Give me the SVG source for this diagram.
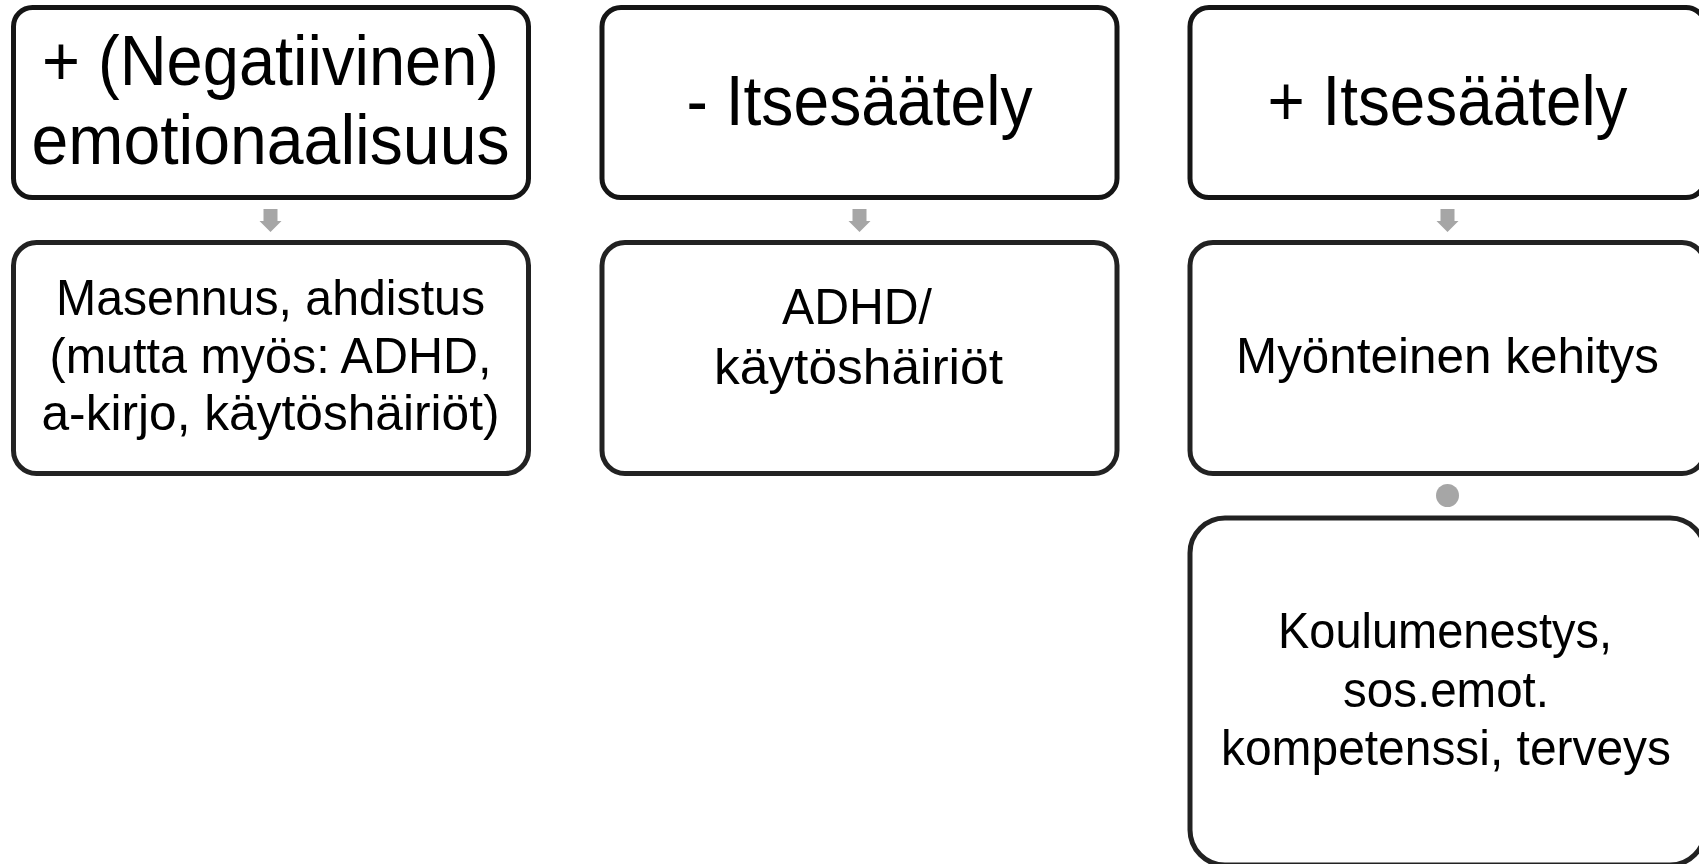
<svg xmlns="http://www.w3.org/2000/svg" width="1699" height="864" viewBox="0 0 1699 864">
<style>
.box{fill:#fff;stroke:#151515;stroke-width:5}
.box2{fill:#fff;stroke:#222;stroke-width:5}
.t1{font-family:"Liberation Sans",Arial,sans-serif;font-size:70px;fill:#000;text-anchor:middle}
.t2{font-family:"Liberation Sans",Arial,sans-serif;font-size:50px;fill:#000;text-anchor:middle}
.arr{fill:#a6a6a6}
</style>
<defs>
<path id="downArrow" d="M-7,0 H7 V12 H11 L0,23 L-11,12 H-7 Z"/>
</defs>
<rect width="1699" height="864" fill="#fff"/>
<g id="connectors">
<use href="#downArrow" class="arr" x="270.5" y="209"/>
<use href="#downArrow" class="arr" x="859.5" y="209"/>
<use href="#downArrow" class="arr" x="1447.5" y="209"/>
<circle class="arr" cx="1447.5" cy="495.5" r="11.5"/>
</g>
<g id="n1">
<rect class="box" x="13.5" y="7.5" width="515" height="190" rx="19"/>
<text class="t1" x="270.5" y="85" textLength="457" lengthAdjust="spacingAndGlyphs">+ (Negatiivinen)</text>
<text class="t1" x="270.5" y="164" textLength="478" lengthAdjust="spacingAndGlyphs">emotionaalisuus</text>
</g>
<g id="n2">
<rect class="box" x="602" y="7.5" width="515" height="190" rx="19"/>
<text class="t1" x="859.5" y="125" textLength="346" lengthAdjust="spacingAndGlyphs">- Itsesäätely</text>
</g>
<g id="n3">
<rect class="box" x="1190" y="7.5" width="515" height="190" rx="19"/>
<text class="t1" x="1447.5" y="125" textLength="360" lengthAdjust="spacingAndGlyphs">+ Itsesäätely</text>
</g>
<g id="n4">
<rect class="box2" x="13.5" y="242.5" width="515" height="231" rx="23"/>
<text class="t2" x="270.5" y="315" textLength="429" lengthAdjust="spacingAndGlyphs">Masennus, ahdistus</text>
<text class="t2" x="270.5" y="373" textLength="442" lengthAdjust="spacingAndGlyphs">(mutta myös: ADHD,</text>
<text class="t2" x="270.5" y="430" textLength="458" lengthAdjust="spacingAndGlyphs">a-kirjo, käytöshäiriöt)</text>
</g>
<g id="n5">
<rect class="box2" x="602" y="242.5" width="515" height="231" rx="23"/>
<text class="t2" x="857" y="324" textLength="150" lengthAdjust="spacingAndGlyphs">ADHD/</text>
<text class="t2" x="858.5" y="384" textLength="289" lengthAdjust="spacingAndGlyphs">käytöshäiriöt</text>
</g>
<g id="n6">
<rect class="box2" x="1190" y="242.5" width="515" height="231" rx="23"/>
<text class="t2" x="1447.5" y="373" textLength="423" lengthAdjust="spacingAndGlyphs">Myönteinen kehitys</text>
</g>
<g id="n7">
<rect class="box2" x="1190" y="518" width="515" height="347" rx="35"/>
<text class="t2" x="1445" y="648" textLength="334" lengthAdjust="spacingAndGlyphs">Koulumenestys,</text>
<text class="t2" x="1446" y="707" textLength="206" lengthAdjust="spacingAndGlyphs">sos.emot.</text>
<text class="t2" x="1446" y="765" textLength="450" lengthAdjust="spacingAndGlyphs">kompetenssi, terveys</text>
</g>
</svg>
